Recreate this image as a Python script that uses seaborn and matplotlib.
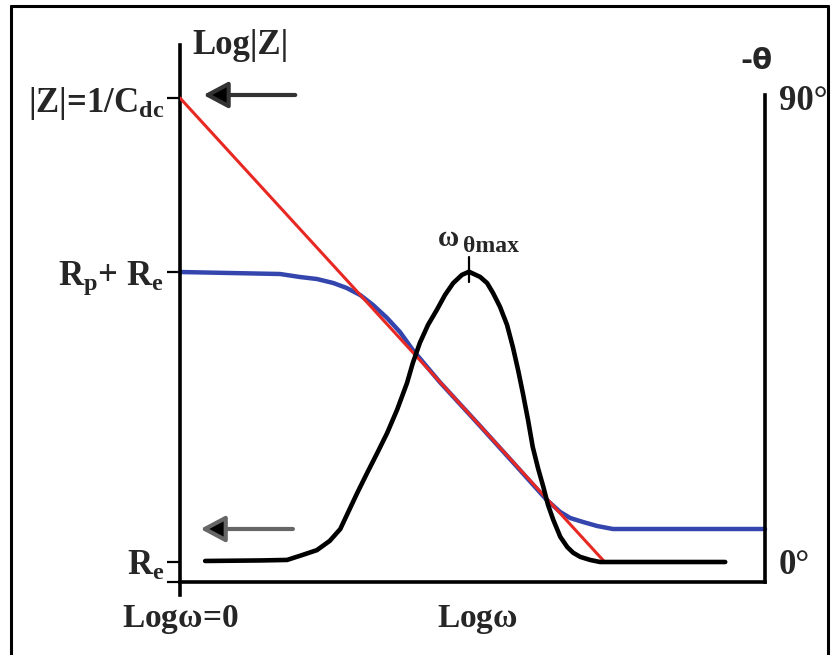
import matplotlib
matplotlib.use("Agg")
import matplotlib.pyplot as plt
from matplotlib.lines import Line2D
import seaborn as sns
import pandas as pd

# ---------------- data (diagram units: x = log(omega), y = log|Z|) ----------------
# asymptote 1/(omega*Cdc)
red_x = [0.0, 7.26]
red_y = [48.4, 2.0]

# |Z| of the cell
blue_x = [0.0, 1.71, 2.05, 2.34, 2.62, 2.85, 3.08, 3.30, 3.54, 3.76, 3.98,
          4.44, 5.13, 5.81, 6.27, 6.50, 6.67, 6.89, 7.13, 7.40, 10.0]
blue_y = [31.0, 30.8, 30.5, 30.3, 29.9, 29.4, 28.7, 27.7, 26.4, 25.0, 23.2,
          20.0, 15.6, 11.2, 8.2, 7.0, 6.4, 6.0, 5.6, 5.3, 5.3]

# phase angle -theta (degrees)
phase_x = [0.43, 1.37, 1.83, 2.05, 2.34, 2.56, 2.74, 2.86, 3.03, 3.20, 3.37, 3.54, 3.71,
           3.88, 3.98, 4.10, 4.24, 4.39, 4.53, 4.67, 4.82, 4.94, 5.13, 5.25, 5.35, 5.47,
           5.59, 5.69, 5.78, 5.86, 5.95, 6.03, 6.12, 6.21, 6.29, 6.38, 6.50, 6.62, 6.72,
           6.84, 7.01, 7.18, 9.32]
phase_y = [0.2, 0.3, 0.4, 1.2, 2.3, 4.1, 6.4, 9.3, 13.4, 17.3, 21.1, 25.0, 29.5,
           34.7, 38.6, 42.5, 46.0, 48.9, 51.8, 54.1, 55.7, 56.3, 55.3, 54.1, 52.2, 49.5,
           46.0, 41.7, 37.2, 32.8, 27.5, 22.3, 18.2, 14.6, 11.1, 8.2, 4.9, 2.9, 1.8,
           1.0, 0.4, 0.0, 0.0]

# tick values / labels
z_ticks = [0.0, 2.0, 31.0, 48.4]
z_labels = ["", r"R$_\mathrm{e}$", r"R$_\mathrm{p}$+ R$_\mathrm{e}$", r"|Z|=1/C$_\mathrm{dc}$"]
x_ticks = [0.0, 5.09]
x_labels = [r"Log$\omega$=0", r"Log$\omega$"]
th_ticks = [0, 90]
th_labels = ["0°", "90°"]
peak_x = 4.94
peak_theta = 56.3

# ---------------- style ----------------
sns.set_theme(style="white")
plt.rcParams["font.family"] = ["Liberation Serif", "DejaVu Serif"]
plt.rcParams["font.weight"] = "bold"
plt.rcParams["mathtext.fontset"] = "custom"
plt.rcParams["mathtext.rm"] = "Liberation Serif:bold"
plt.rcParams["mathtext.it"] = "Liberation Serif:bold"
plt.rcParams["mathtext.bf"] = "Liberation Serif:bold"
plt.rcParams["mathtext.default"] = "rm"

W, H = 832, 655
fig = plt.figure(figsize=(W / 100, H / 100), dpi=100)
fig.patch.set_facecolor("white")

# axes: left spine x=180px, right spine x=765px, y from 595px(bottom) to 45px(top)
ax = fig.add_axes([180 / W, (H - 595) / H, (765 - 180) / W, (595 - 45) / H])
ax.set_facecolor("white")
ax.set_xlim(0, 10)
ax.set_ylim(-1.3, 53.7)

ax2 = ax.twinx()
# theta axis: 0 deg at 562px, 90 deg at 98px
deg_per_px = 90 / 464
ax2.set_ylim((562 - 595) * deg_per_px, (562 - 45) * deg_per_px)

df_red = pd.DataFrame({"x": red_x, "y": red_y})
df_blue = pd.DataFrame({"x": blue_x, "y": blue_y})
df_ph = pd.DataFrame({"x": phase_x, "y": phase_y})

sns.lineplot(data=df_red, x="x", y="y", ax=ax, color="#e82822", lw=2.2,
             sort=False, estimator=None, zorder=3)
sns.lineplot(data=df_blue, x="x", y="y", ax=ax, color="#3446ae", lw=3.2,
             sort=False, estimator=None, zorder=2, clip_on=False)
sns.lineplot(data=df_ph, x="x", y="y", ax=ax2, color="black", lw=3.3,
             sort=False, estimator=None, zorder=2)
ax2.set_xlim(0, 10)

# spines
for s in ["top", "right"]:
    ax.spines[s].set_visible(False)
ax.spines["left"].set_bounds(-1.3, 53.7)
ax.spines["bottom"].set_position(("data", 0))
ax.spines["bottom"].set_bounds(0, 10)
for s in ["left", "bottom"]:
    ax.spines[s].set_color("black")
    ax.spines[s].set_linewidth(2.6)
for s in ["top", "left", "bottom"]:
    ax2.spines[s].set_visible(False)
ax2.spines["right"].set_bounds((562 - 582) * deg_per_px, (562 - 95) * deg_per_px)
ax2.spines["right"].set_color("black")
ax2.spines["right"].set_linewidth(2.6)

# ticks
ax.set_yticks(z_ticks)
ax.set_yticklabels(z_labels, fontsize=25, fontweight="bold")
ax.tick_params(axis="y", direction="out", length=9.5, width=1.6, color="black", pad=2, left=True)
ax.set_xticks(x_ticks)
ax.set_xticklabels(x_labels, fontsize=24, fontweight="bold")
ax.tick_params(axis="x", length=0, pad=15)
ax.set_xlabel("")
ax.set_ylabel("")
ax2.set_yticks(th_ticks)
ax2.set_yticklabels(th_labels, fontsize=25, fontweight="bold")
ax2.tick_params(axis="y", length=0, pad=10)
ax2.set_ylabel("")
ax2.set_xlabel("")

# axis titles
ax.text(0.22, 53.6, "Log|Z|", fontsize=25, fontweight="bold", ha="left", va="center")
ax2.text(9.86, (562 - 61) * deg_per_px, "-θ", fontsize=21, fontweight="bold",
         ha="center", va="center", family=["DejaVu Sans"])

# peak marker and label
ax2.plot([peak_x, peak_x], [peak_theta - 2.0, peak_theta + 2.8], color="black", lw=1.6)
ax2.annotate("ω", xy=(peak_x, peak_theta), xytext=(-20, 26), textcoords="offset pixels",
             fontsize=21, fontweight="bold", ha="center", va="baseline")
ax2.annotate("θmax", xy=(peak_x, peak_theta), xytext=(-6, 20), textcoords="offset pixels",
             fontsize=17, fontweight="bold", ha="left", va="baseline")

# arrows pointing at the left axis
ax.annotate("", xy=(0.40, 48.7), xytext=(1.97, 48.7), annotation_clip=False,
            arrowprops=dict(arrowstyle="-|>,head_length=0.75,head_width=0.4", mutation_scale=20,
                            color="#333333", fc="black", lw=3.0, shrinkA=0, shrinkB=0))
ax.annotate("", xy=(0.35, 5.3), xytext=(1.93, 5.3), annotation_clip=False,
            arrowprops=dict(arrowstyle="-|>,head_length=0.75,head_width=0.4", mutation_scale=20,
                            color="#666666", fc="black", lw=3.0, shrinkA=0, shrinkB=0))

# frame around the figure
lw_frame = 2.2
fig.add_artist(Line2D([11 / W, 11 / W], [0, 1 - 6 / H], color="black", lw=lw_frame))
fig.add_artist(Line2D([11 / W, 828 / W], [1 - 6 / H, 1 - 6 / H], color="black", lw=lw_frame))
fig.add_artist(Line2D([828 / W, 828 / W], [0, 1 - 6 / H], color="black", lw=lw_frame))

fig.savefig("out.png", dpi=100, facecolor="white")
